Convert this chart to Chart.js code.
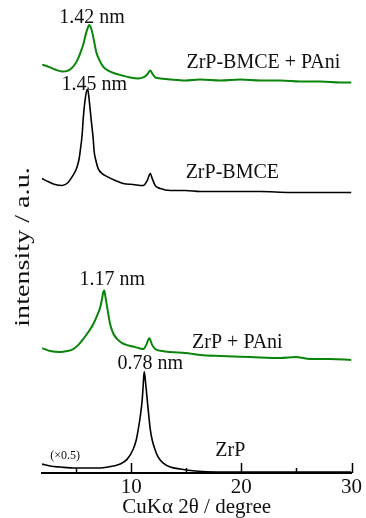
<!DOCTYPE html>
<html>
<head>
<meta charset="utf-8">
<script src="https://cdn.jsdelivr.net/npm/chart.js@4.4.1/dist/chart.umd.min.js"></script>
<style>
  body { margin: 0; background: #fff; }
  #wrap { width: 366px; height: 518px; position: relative; }
</style>
</head>
<body>
<div id="wrap"><canvas id="xrd"></canvas></div>
<script>
// XRD patterns, 2theta (deg) vs stacked intensity (a.u.)

// ZrP-BMCE + PAni (green, top)
const bmcePaniX = [1.91, 2.45, 3.09, 3.73, 4.27, 4.73, 5.09, 5.36, 5.64, 5.91, 6.09, 6.18, 6.27, 6.45, 6.64, 6.82, 7.09, 7.45, 7.91, 8.55, 9.18, 9.91, 10.64, 11.09, 11.45, 11.73, 11.91, 12.18, 12.64, 13.55, 14.91, 16.27, 18.09, 19.91, 21.73, 23.55, 25.36, 27.18, 29.0, 30];
const bmcePaniY = [412, 410, 407, 405, 406, 410, 416, 423, 432, 444, 450, 452, 451, 445, 435, 425, 417, 410, 406, 403, 401, 399, 398, 399, 402, 406, 403, 399, 398, 397, 396, 397, 396, 397, 396, 396, 395, 395, 394, 394];

// ZrP-BMCE (black)
const bmceX = [1.91, 2.45, 3.09, 3.73, 4.27, 4.64, 4.91, 5.09, 5.27, 5.36, 5.55, 5.64, 5.82, 6.0, 6.09, 6.27, 6.36, 6.55, 6.64, 6.82, 7.0, 7.36, 7.82, 8.55, 9.27, 10.18, 11.09, 11.45, 11.73, 11.91, 12.18, 12.64, 13.55, 14.91, 16.27, 19.0, 21.73, 24.45, 27.18, 30];
const bmceY = [297, 294, 291, 290, 293, 299, 304, 309, 317, 324, 342, 357, 377, 387, 385, 367, 357, 337, 324, 314, 307, 302, 299, 295, 292, 291, 290, 295, 302, 297, 290, 287, 285, 285, 284, 284, 284, 283, 283, 283];

// ZrP + PAni (green)
const zrpPaniX = [1.91, 2.64, 3.55, 4.18, 4.73, 5.18, 5.64, 6.09, 6.55, 6.91, 7.18, 7.36, 7.45, 7.55, 7.64, 7.82, 8.09, 8.36, 8.73, 9.18, 9.64, 10.36, 11.09, 11.36, 11.64, 11.91, 12.18, 12.82, 13.55, 14.91, 15.64, 16.27, 18.09, 20.82, 23.55, 24.91, 26.27, 28.09, 30];
const zrpPaniY = [126, 123, 122, 123, 125, 129, 135, 142, 150, 159, 167, 176, 182, 184, 179, 167, 150, 141, 135, 131, 129, 127, 125, 129, 136, 129, 125, 123, 122, 121, 120, 119, 118, 117, 116, 117, 115, 115, 114];

// ZrP (black, x0.5)
const zrpX = [1.91, 2.64, 3.55, 4.91, 6.27, 7.18, 7.91, 8.36, 9.0, 9.64, 10.18, 10.45, 10.64, 10.82, 11.0, 11.09, 11.18, 11.27, 11.36, 11.45, 11.55, 11.64, 11.73, 11.91, 12.18, 12.45, 12.91, 13.55, 14.45, 15.82, 17.82, 21.45, 25.36, 30];
const zrpY = [9, 7, 6, 5, 5, 5, 6, 7, 9, 14, 24, 33, 44, 57, 74, 89, 102, 95, 85, 74, 63, 53, 44, 33, 23, 16, 10, 6, 4, 2, 1, 1, 1, 1];

// labels on the plot: text, x (deg), y (a.u.)
const noteText = ['1.42 nm', 'ZrP-BMCE + PAni', '1.45 nm', 'ZrP-BMCE', '1.17 nm', 'ZrP + PAni', '0.78 nm', 'ZrP'];
const noteX = [6.45, 22.0, 6.64, 19.18, 8.27, 19.64, 11.73, 19.0];
const noteY = [459, 414, 392, 303, 195, 131, 110, 22];

const majorTicks = [10, 20, 30];
const minorTicks = [5, 15, 25];

const green = '#0a840a';
const serif = "'Liberation Serif', 'DejaVu Serif', serif";

function toPoints(xs, ys) {
    return xs.map((x, i) => ({x: x, y: ys[i]}));
}

const notesPlugin = {
    id: 'notes',
    afterDraw(chart) {
        const ctx = chart.ctx;
        const xs = chart.scales.x;
        const ys = chart.scales.y;
        const bottom = chart.chartArea.bottom;

        // inward ticks
        ctx.save();
        ctx.strokeStyle = '#000';
        ctx.lineWidth = 1.5;
        majorTicks.forEach(v => {
            const px = Math.round(xs.getPixelForValue(v)) + 0.5;
            ctx.beginPath(); ctx.moveTo(px, bottom); ctx.lineTo(px, bottom - 10); ctx.stroke();
        });
        minorTicks.forEach(v => {
            const px = Math.round(xs.getPixelForValue(v)) + 0.5;
            ctx.beginPath(); ctx.moveTo(px, bottom); ctx.lineTo(px, bottom - 5); ctx.stroke();
        });

        // annotations
        ctx.fillStyle = '#111';
        ctx.textAlign = 'center';
        ctx.textBaseline = 'middle';
        ctx.font = '20px ' + serif;
        noteText.forEach((t, i) => {
            ctx.fillText(t, xs.getPixelForValue(noteX[i]), ys.getPixelForValue(noteY[i]));
        });
        ctx.font = '12px ' + serif;
        ctx.fillText('(\u00d70.5)', xs.getPixelForValue(4.0), ys.getPixelForValue(17));

        // y title, a little stretched like the original
        ctx.translate(23, 247);
        ctx.rotate(-Math.PI / 2);
        ctx.scale(1.28, 1);
        ctx.font = '22px ' + serif;
        ctx.fillText('intensity / a.u.', 0, 0);
        ctx.restore();
    }
};

new Chart(document.getElementById('xrd'), {
    type: 'line',
    data: {
        datasets: [
            {label: 'ZrP-BMCE + PAni', data: toPoints(bmcePaniX, bmcePaniY), borderColor: green, borderWidth: 2},
            {label: 'ZrP-BMCE', data: toPoints(bmceX, bmceY), borderColor: '#000', borderWidth: 1.6},
            {label: 'ZrP + PAni', data: toPoints(zrpPaniX, zrpPaniY), borderColor: green, borderWidth: 2},
            {label: 'ZrP', data: toPoints(zrpX, zrpY), borderColor: '#000', borderWidth: 1.6}
        ]
    },
    options: {
        responsive: true,
        maintainAspectRatio: false,
        animation: false,
        elements: {
            point: {radius: 0},
            line: {cubicInterpolationMode: 'monotone', fill: false}
        },
        layout: {padding: {top: 17, left: 42, right: 14, bottom: 0}},
        plugins: {
            legend: {display: false},
            tooltip: {enabled: false}
        },
        scales: {
            x: {
                type: 'linear',
                min: 1.9,
                max: 30,
                grid: {display: false, drawTicks: false},
                border: {display: true, color: '#000', width: 2},
                ticks: {
                    stepSize: 5,
                    includeBounds: false,
                    autoSkip: false,
                    maxRotation: 0,
                    padding: 4,
                    color: '#111',
                    font: {family: serif, size: 21, lineHeight: 1},
                    callback: function(value) {
                        return majorTicks.includes(value) ? String(value) : '';
                    }
                },
                title: {
                    display: true,
                    text: 'CuK\u03b1 2\u03b8 / degree',
                    color: '#111',
                    font: {family: serif, size: 21, lineHeight: 1},
                    padding: {top: -5, bottom: 0}
                }
            },
            y: {
                display: false,
                min: 0,
                max: 460
            }
        }
    },
    plugins: [notesPlugin]
});
</script>
</body>
</html>
